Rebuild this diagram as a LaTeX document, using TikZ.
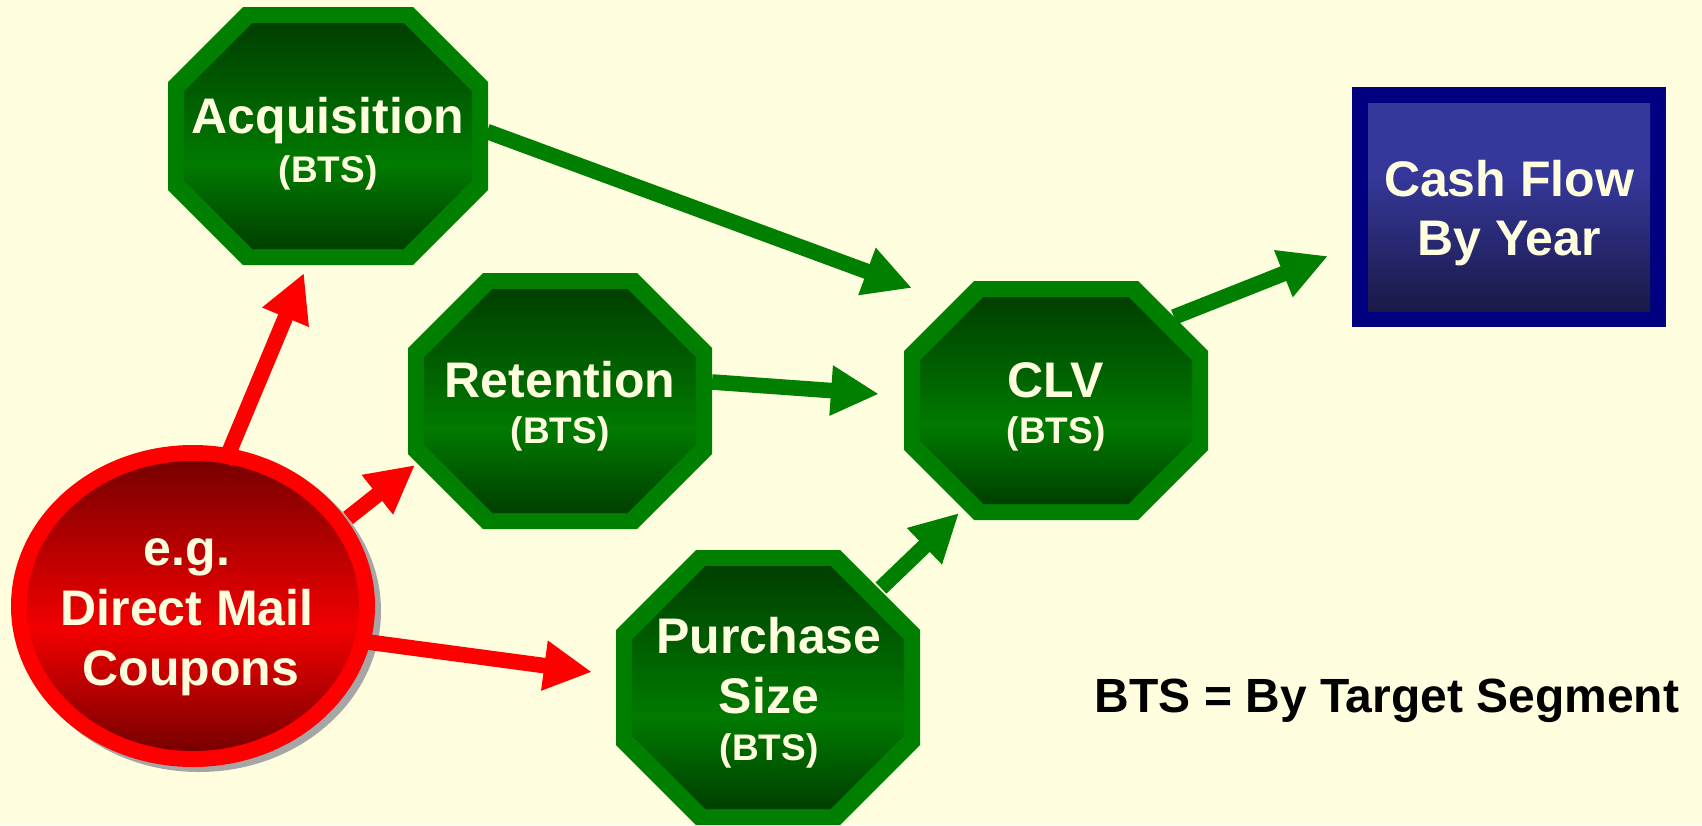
\documentclass[tikz,border=0pt]{standalone}
\usepackage{fontspec}
\setmainfont{Liberation Sans}
\usetikzlibrary{arrows.meta,calc,shapes.geometric}

\definecolor{bg}{HTML}{FFFFE0}
\definecolor{txtc}{HTML}{FFFFE0}
\definecolor{gbord}{HTML}{007F00}
\definecolor{gdark}{HTML}{003F00}
\definecolor{gbright}{HTML}{007A00}
\definecolor{rbord}{HTML}{FF0000}
\definecolor{rdark}{HTML}{780000}
\definecolor{rbright}{HTML}{F20000}
\definecolor{nbord}{HTML}{000080}
\definecolor{ntop}{HTML}{35389A}
\definecolor{nbot}{HTML}{1A1948}

\pgfdeclareverticalshading{octshade}{100bp}{color(0bp)=(gdark); color(25bp)=(gdark); color(44bp)=(gbright); color(75bp)=(gdark); color(100bp)=(gdark)}
\pgfdeclareverticalshading{redshade}{100bp}{color(0bp)=(rdark); color(25bp)=(rdark); color(46bp)=(rbright); color(75bp)=(rdark); color(100bp)=(rdark)}
\pgfdeclareverticalshading{navyshade}{100bp}{color(0bp)=(nbot); color(25bp)=(nbot); color(58bp)=(ntop); color(75bp)=(ntop); color(100bp)=(ntop)}

\tikzset{
  garr/.style={draw=gbord, line width=7.8pt, -{Triangle[length=24pt,width=23.5pt]}},
  rarr/.style={draw=rbord, line width=7.8pt, -{Triangle[length=24pt,width=23.5pt]}},
  big/.style={text=txtc, font=\bfseries\fontsize{25}{30}\selectfont, inner sep=0pt, anchor=base},
  small/.style={text=txtc, font=\bfseries\fontsize{18.5}{22}\selectfont, inner sep=0pt, anchor=base},
  legendtext/.style={text=black, font=\bfseries\fontsize{24}{28}\selectfont, inner sep=0pt, anchor=base},
  shapebox/.style={draw=none, inner sep=0pt, outer sep=0pt, rectangle},
}

% octagon: name, cx, cy, w, h, cut  (image pixel units)
\newcommand\octo[6]{%
  \pgfmathsetmacro\octL{#2-#4/2}\pgfmathsetmacro\octR{#2+#4/2}%
  \pgfmathsetmacro\octT{#3-#5/2}\pgfmathsetmacro\octB{#3+#5/2}%
  \pgfmathsetmacro\octC{#6}%
  \fill[gbord] (\octL+\octC,\octT) -- (\octR-\octC,\octT) -- (\octR,\octT+\octC) -- (\octR,\octB-\octC) -- (\octR-\octC,\octB) -- (\octL+\octC,\octB) -- (\octL,\octB-\octC) -- (\octL,\octT+\octC) -- cycle;
  \pgfmathsetmacro\octL{\octL+16}\pgfmathsetmacro\octR{\octR-16}%
  \pgfmathsetmacro\octT{\octT+16}\pgfmathsetmacro\octB{\octB-16}%
  \pgfmathsetmacro\octC{\octC-6.6}%
  \shade[shading=octshade] (\octL+\octC,\octT) -- (\octR-\octC,\octT) -- (\octR,\octT+\octC) -- (\octR,\octB-\octC) -- (\octR-\octC,\octB) -- (\octL+\octC,\octB) -- (\octL,\octB-\octC) -- (\octL,\octT+\octC) -- cycle;
  \node[shapebox, minimum width=#4*0.5pt, minimum height=#5*0.5pt] (#1) at (#2,#3) {};
}

\begin{document}
\begin{tikzpicture}[x=0.5pt, y=-0.5pt]
\useasboundingbox (0,0) rectangle (1702,825);
\fill[bg] (0,0) rectangle (1702,825);

% source circle
\fill[black!35] (199,611) ellipse [x radius=91pt, y radius=80.5pt];
\node[ellipse, fill=rbord, draw=none, inner sep=0pt, outer sep=0pt, minimum width=182pt, minimum height=161pt] (circ) at (193,606) {};
\shade[shading=redshade] (193,606) ellipse [x radius=83pt, y radius=72.5pt];
\node[big] (circA) at (187,565) {e.g.};
\node[big] (circB) at (187,625) {Direct Mail};
\node[big] (circC) at (191,685) {Coupons};

% octagons
\octo{acq}{328}{136}{320}{258}{75}
\node[big] (acqA) at (328,133) {Acquisition};
\node[small] (acqB) at (328,182) {(BTS)};

\octo{ret}{560}{401}{304}{256}{75}
\node[big] (retA) at (560,397) {Retention};
\node[small] (retB) at (560,443) {(BTS)};

\octo{clv}{1056}{400.5}{304}{239}{70}
\node[big] (clvA) at (1056,397) {CLV};
\node[small] (clvB) at (1056,443) {(BTS)};

\octo{pur}{768}{687.5}{304}{275}{80}
\node[big] (purA) at (769,653) {Purchase};
\node[big] (purB) at (769,713) {Size};
\node[small] (purC) at (769,760) {(BTS)};

% cash flow box
\fill[nbord] (1352,87) rectangle (1666,327);
\shade[shading=navyshade] (1368,103) rectangle (1650,311);
\node[shapebox, minimum width=157pt, minimum height=120pt] (cash) at (1509,207) {};
\node[big] (cashA) at (1509,196) {Cash Flow};
\node[big] (cashB) at (1509,255) {By Year};

% legend
\node[legendtext] (legend) at (1387,712) {BTS = By Target Segment};

% connectors
\draw[rarr] ($(circ)+(31.5,-143)$) -- ($(acq)+(-24,137)$);
\draw[rarr] ($(circ)+(155,-88)$) -- ($(ret)+(-145,64)$);
\draw[rarr] ($(circ)+(175,36)$) -- ($(pur)+(-176,-15.5)$);
\draw[garr] ($(acq)+(159,-4.5)$) -- ($(clv)+(-144,-112.5)$);
\draw[garr] ($(ret)+(152,-19)$) -- ($(clv)+(-177,-6.5)$);
\draw[garr] ($(pur)+(113,-99.5)$) -- ($(clv)+(-97,112.5)$);
\draw[garr] ($(clv)+(118,-83.5)$) -- ($(cash)+(-181,49)$);
\end{tikzpicture}
\end{document}
